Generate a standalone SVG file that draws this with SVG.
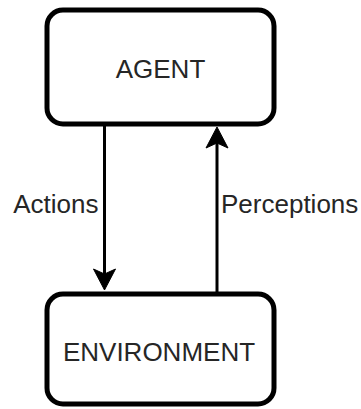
<svg xmlns="http://www.w3.org/2000/svg" width="361" height="409" viewBox="0 0 361 409">
  <style>
    .box { fill: #ffffff; stroke: #000000; stroke-width: 5; }
    .lbl { font-family: "Liberation Sans", Arial, sans-serif; font-size: 26px; fill: #262626; }
    .edge { fill: none; stroke: #000000; stroke-width: 3; }
    .head { fill: #000000; stroke: #000000; stroke-width: 1; stroke-linejoin: miter; }
  </style>
  <rect x="0" y="0" width="361" height="409" fill="#ffffff"/>

  <g id="agent">
    <rect class="box" x="47" y="10" width="227" height="114" rx="16" ry="16"/>
    <text class="lbl" x="160.5" y="78" text-anchor="middle">AGENT</text>
  </g>

  <g id="environment">
    <rect class="box" x="47" y="294" width="227" height="110" rx="16" ry="16"/>
    <text class="lbl" x="159" y="361" text-anchor="middle">ENVIRONMENT</text>
  </g>

  <g id="connectors">
    <!-- Actions: agent down to environment -->
    <path class="edge" d="M104.5 126 L104.5 274"/>
    <path class="head" d="M104.5 290 L93.5 269 L104.5 274 L115.5 269 Z"/>
    <text class="lbl" x="98.5" y="213" text-anchor="end">Actions</text>

    <!-- Perceptions: environment up to agent -->
    <path class="edge" d="M217 292 L217 143"/>
    <path class="head" d="M217 127 L206 148 L217 143 L228 148 Z"/>
    <text class="lbl" x="221" y="213">Perceptions</text>
  </g>
</svg>
